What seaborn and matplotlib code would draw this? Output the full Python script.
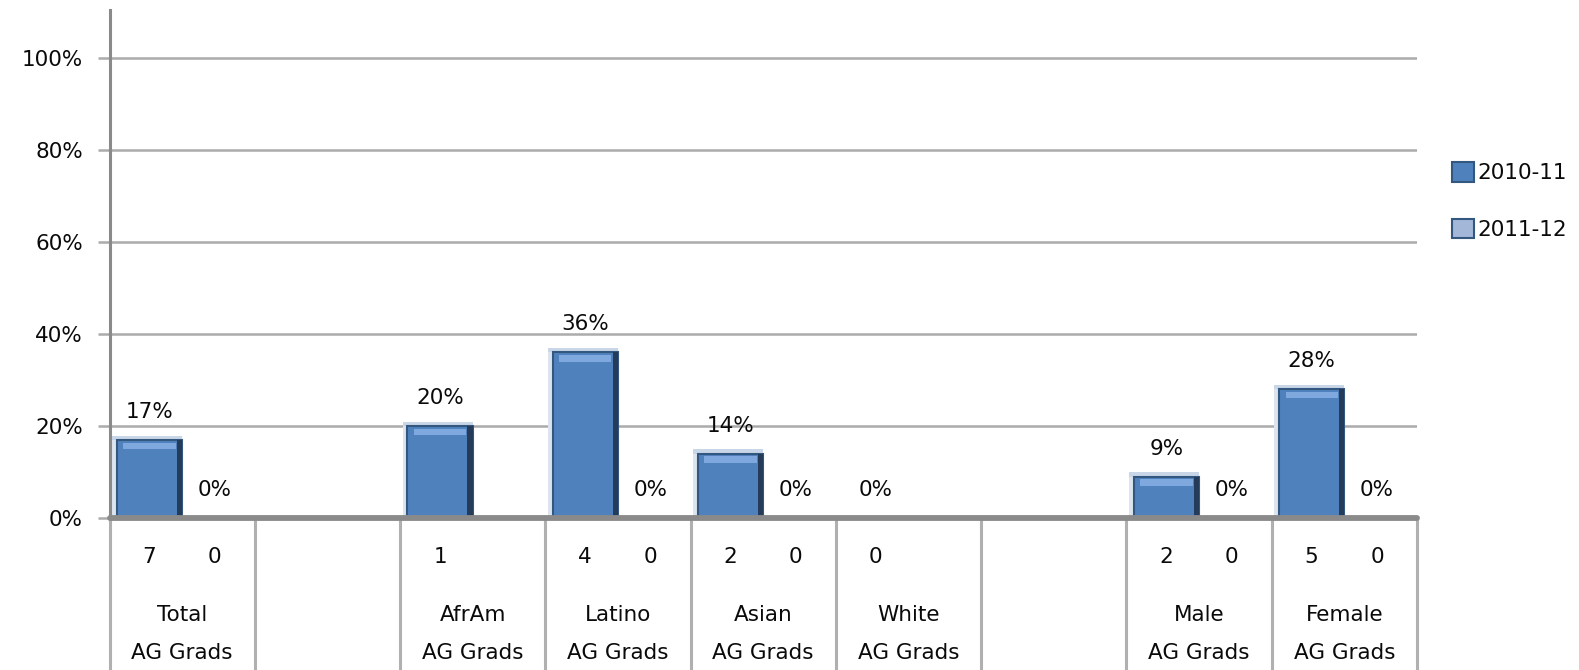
import numpy as np
import pandas as pd
import matplotlib
matplotlib.use("Agg")
import matplotlib.pyplot as plt
import matplotlib.transforms as mtransforms
from matplotlib.patches import Rectangle
import seaborn as sns

# ---- data ----
categories = ["Total\nAG Grads", "", "AfrAm\nAG Grads", "Latino\nAG Grads", "Asian\nAG Grads",
              "White\nAG Grads", " ", "Male\nAG Grads", "Female\nAG Grads"]
series = ["2010-11", "2011-12"]
pct_2010_11 = [17, np.nan, 20, 36, 14, 0, np.nan, 9, 28]
pct_2011_12 = [0, np.nan, np.nan, 0, 0, np.nan, np.nan, 0, 0]
count_2010_11 = [7, None, 1, 4, 2, 0, None, 2, 5]
count_2011_12 = [0, None, None, 0, 0, None, None, 0, 0]
yticks = [0, 20, 40, 60, 80, 100]
colors = ["#4F81BD", "#A3B7D9"]

rows = []
for c, a, b in zip(categories, pct_2010_11, pct_2011_12):
    rows.append({"cat": c, "series": series[0], "value": a})
    rows.append({"cat": c, "series": series[1], "value": b})
df = pd.DataFrame(rows)

sns.set_theme(style="white")
plt.rcParams["font.family"] = ["DejaVu Sans"]
FS = 15.5
TXT = "#0A0A0A"

W, H = 1579, 670
fig = plt.figure(figsize=(W / 100, H / 100), dpi=100)
ax = fig.add_axes([109.5 / W, 1 - 518 / H, (1417 - 109.5) / W, (518 - 10) / H])

bar_width = 0.9
sns.barplot(data=df.dropna(), x="cat", y="value", hue="series", order=categories,
            hue_order=series, palette=colors, saturation=1, width=bar_width,
            edgecolor="#34577F", linewidth=1.5, ax=ax, errorbar=None)

ax.set_xlim(-0.5, len(categories) - 0.5)
ax.set_ylim(0, 110.4)

# simple 3-D style shading derived from each drawn bar
for p in list(ax.patches):
    h = p.get_height()
    if not np.isfinite(h) or h <= 0:
        continue
    x0, w = p.get_x(), p.get_width()
    ax.add_patch(Rectangle((x0 - w * 0.07, 0), w * 0.07, h + 0.8, color="#DCE4EF",
                           zorder=p.get_zorder() - 0.1, lw=0))
    ax.add_patch(Rectangle((x0 - w * 0.07, h), w * 1.07, 0.9, color="#C9D6E8",
                           zorder=p.get_zorder() - 0.1, lw=0))
    ax.add_patch(Rectangle((x0 + w * 0.92, 0), w * 0.08, h, color="#253B5A",
                           zorder=p.get_zorder() + 0.1, lw=0))
    ax.add_patch(Rectangle((x0 + w * 0.1, h - 2.0), w * 0.8, 1.4, color="#7FA8DE",
                           zorder=p.get_zorder() + 0.1, lw=0))

ax.set_yticks(yticks)
ax.set_yticklabels([f"{t}%" for t in yticks], fontsize=FS, color=TXT)
ax.set_xticks([])
ax.set_xlabel("")
ax.set_ylabel("")
for t in yticks[1:]:
    ax.axhline(t, color="#ABABAB", lw=1.8, zorder=0)
ax.axhline(0, color="#8A8A8A", lw=4.2, zorder=3, clip_on=False)
ax.tick_params(axis="y", length=9, width=1.8, color="#ABABAB", pad=10, left=True)
for s in ["top", "right", "bottom"]:
    ax.spines[s].set_visible(False)
ax.spines["left"].set_color("#8A8A8A")
ax.spines["left"].set_linewidth(2.2)

# data labels
for cont in ax.containers:
    ax.bar_label(cont, fmt="%.0f%%", padding=13, fontsize=FS, color=TXT)

# data table below axis
trans = mtransforms.blended_transform_factory(ax.transData, ax.transAxes)
for i in range(len(categories) + 1):
    ax.plot([i - 0.5, i - 0.5], [0, -0.35], transform=trans, color="#B0B0B0",
            lw=2.2, clip_on=False, zorder=1)
off = bar_width / 4
for i, (c, n1, n2) in enumerate(zip(categories, count_2010_11, count_2011_12)):
    if n1 is not None:
        ax.text(i - off, -0.077, str(n1), transform=trans, ha="center", va="center",
                fontsize=FS, color=TXT)
    if n2 is not None:
        ax.text(i + off, -0.077, str(n2), transform=trans, ha="center", va="center",
                fontsize=FS, color=TXT)
    lines = c.strip().split("\n")
    if lines[0]:
        for line, yy in zip(lines, [-0.191, -0.266]):
            ax.text(i, yy, line, transform=trans, ha="center", va="center",
                    fontsize=FS, color=TXT)

# legend
sns.move_legend(ax, loc="center left", bbox_to_anchor=(1452 / W, 1 - 201 / H),
                bbox_transform=fig.transFigure, frameon=False, title=None,
                fontsize=FS, handlelength=1.0, handleheight=1.0, handletextpad=0.2,
                labelspacing=1.65, borderaxespad=0, borderpad=0)
for t in ax.get_legend().get_texts():
    t.set_color(TXT)

fig.savefig("out.png", dpi=100)
